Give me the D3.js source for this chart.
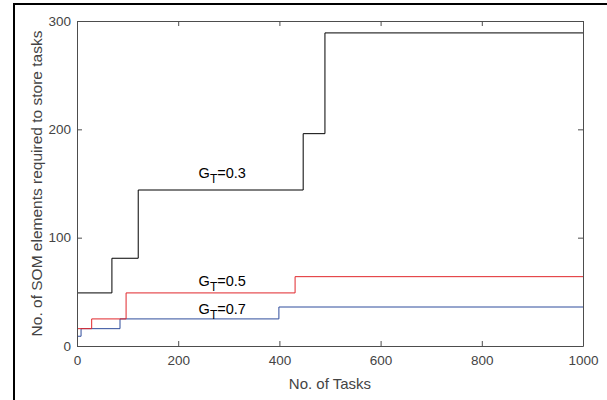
<!DOCTYPE html>
<html><head><meta charset="utf-8">
<script src="https://cdn.jsdelivr.net/npm/d3@7"></script>
<style>body{margin:0;background:#fff}svg{display:block}text{font-family:"Liberation Sans",Arial,sans-serif}</style>
</head><body><svg id="c" width="607" height="400"></svg>
<script>
// step series: [task, elements] change points
const seriesG03 = [[0,0],[1,49],[69,81],[121,144],[447,196],[490,289],[1000,289]];
const seriesG05 = [[0,0],[1,16],[29,25],[97,49],[431,64],[1000,64]];
const seriesG07 = [[0,0],[1,9],[8,16],[85,25],[399,36],[1000,36]];
const seriesNames = ["0.3","0.5","0.7"];
const seriesColors = ["#000000","#e0262b","#2f4c9c"];
const labelPos = [[287,155],[287,55],[287,29.5]]; // data coords of label anchors (baseline)
const xTicks = [0,200,400,600,800,1000];
const yTicks = [0,100,200,300];

const svg = d3.select("#c");
const L=77,R=583,T=21,B=346;
const x = d3.scaleLinear().domain([0,1000]).range([L,R]);
const y = d3.scaleLinear().domain([0,300]).range([B,T]);

// outer frame
svg.append("rect").attr("x",14).attr("y",4).attr("width",700).attr("height",500)
  .attr("fill","none").attr("stroke","#000").attr("stroke-width",2);

const line = d3.line().x(d=>x(d[0])).y(d=>y(d[1])).curve(d3.curveStepAfter);
[seriesG07,seriesG05,seriesG03].forEach((s,i)=>{
  const col=[seriesColors[2],seriesColors[1],seriesColors[0]][i];
  svg.append("path").attr("d",line(s)).attr("fill","none").attr("stroke",col).attr("stroke-width",1);
});

const axCol="#4d4d4d";
const fmt=d3.format("d");
const gx=svg.append("g").attr("transform",`translate(0,${B})`)
  .call(d3.axisBottom(x).tickValues(xTicks).tickFormat(fmt).tickSizeInner(-5).tickSizeOuter(0).tickPadding(9));
const gy=svg.append("g").attr("transform",`translate(${L},0)`)
  .call(d3.axisLeft(y).tickValues(yTicks).tickFormat(fmt).tickSizeInner(-5).tickSizeOuter(0).tickPadding(6));
const gt=svg.append("g").attr("transform",`translate(0,${T})`)
  .call(d3.axisTop(x).tickValues(xTicks).tickSizeInner(-5).tickSizeOuter(0).tickFormat(""));
const gr=svg.append("g").attr("transform",`translate(${R},0)`)
  .call(d3.axisRight(y).tickValues(yTicks).tickSizeInner(-5).tickSizeOuter(0).tickFormat(""));
[gx,gy,gt,gr].forEach(g=>{
  g.selectAll("path,line").attr("stroke",axCol);
  g.selectAll("text").attr("fill","#444").attr("font-size",13.5).style("font-family","Liberation Sans, Arial, sans-serif");
});

seriesNames.forEach((n,i)=>{
  const t=svg.append("text").attr("x",x(labelPos[i][0])).attr("y",y(labelPos[i][1]))
    .attr("text-anchor","middle").attr("font-size",14.5).attr("fill","#000");
  t.append("tspan").text("G");
  t.append("tspan").attr("dy",5).attr("font-size",12).text("T");
  t.append("tspan").attr("dy",-5).text("="+n);
});

svg.append("text").attr("x",(L+R)/2).attr("y",389).attr("text-anchor","middle")
  .attr("font-size",15).attr("fill","#444").text("No. of Tasks");
svg.append("text").attr("transform",`translate(42,${(T+B)/2}) rotate(-90)`).attr("text-anchor","middle")
  .attr("font-size",15.5).attr("fill","#444").text("No. of SOM elements required to store tasks");
</script></body></html>
